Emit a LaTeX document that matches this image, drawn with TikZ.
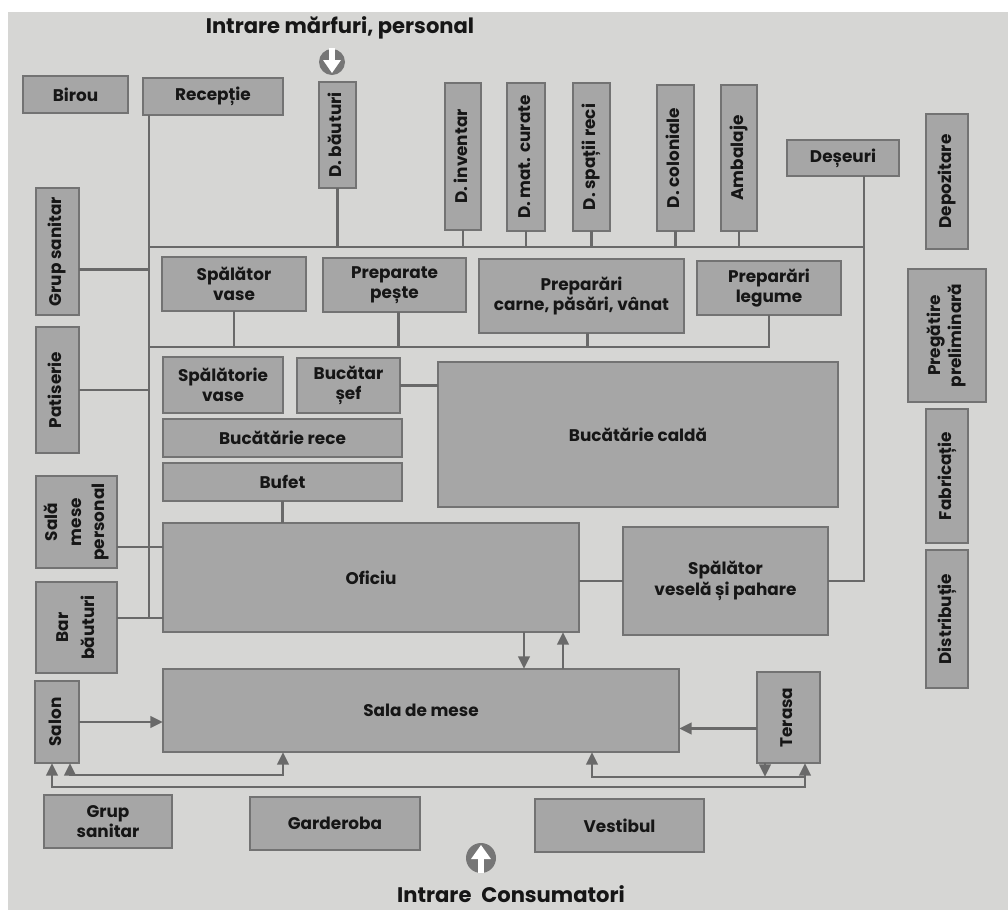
\documentclass[tikz,border=0pt]{standalone}
\usepackage{fontspec}
\usepackage{graphicx}
\setmainfont{Poppins}
\usetikzlibrary{calc,arrows.meta}
\definecolor{bg}{RGB}{214,214,212}
\definecolor{boxfill}{RGB}{166,166,166}
\definecolor{boxedge}{RGB}{115,115,115}
\definecolor{wirec}{RGB}{105,105,105}
\definecolor{ink}{RGB}{22,22,22}
\definecolor{symgray}{RGB}{118,118,118}
\newcommand\Room[7][]{\node[room,#1,minimum width={(#5-#3)*0.025cm},minimum height={(#6-#4)*0.025cm}] (#2) at ({(#3+#5)/2},{(#4+#6)/2}) {#7};}
\newcommand\vtext[2][1]{\rotatebox{90}{\def\arraystretch{#1}\begin{tabular}{@{}c@{}}#2\end{tabular}}}
\begin{document}
\begin{tikzpicture}[x=0.025cm,y=-0.025cm,
  room/.style={draw=boxedge,fill=boxfill,line width=1pt,inner sep=0pt,outer sep=0pt,align=center,text=ink,font=\fontsize{12}{14.5}\selectfont\bfseries},
  wire/.style={draw=wirec,line width=2.1pt},
  Tp/.tip={Triangle[width=8pt,length=9pt]},
  arr/.style={wire,-Tp},
  dbl/.style={wire,Tp-Tp},
  label/.style={text=ink,inner sep=0pt,font=\fontsize{15}{18}\selectfont\bfseries}]
\useasboundingbox (0,0) rectangle (1008,910);
\fill[white] (0,0) rectangle (1008,910);
\fill[bg] (8,12) rectangle (1008,910);

% rooms
\Room{birou}{23}{76}{128}{113}{Birou}
\Room{recep}{143}{78}{283}{115}{Recepție}
\Room{dbaut}{319}{82}{356}{188}{\vtext{D. băuturi}}
\Room{dinv}{445}{83}{481}{230}{\vtext{D. inventar}}
\Room{dmat}{507}{83}{545}{231}{\vtext{D. mat. curate}}
\Room{dspr}{573}{83}{610}{231}{\vtext{D. spații reci}}
\Room{dcol}{657}{85}{694}{231}{\vtext{D. coloniale}}
\Room{amb}{721}{85}{757}{231}{\vtext{Ambalaje}}
\Room{des}{787}{140}{899}{176}{Deșeuri}
\Room{depo}{926}{114}{968}{249}{\vtext{Depozitare}}
\Room{preg}{908}{269}{986}{402}{\vtext[1.0]{Pregătire\\preliminară}}
\Room{fabr}{926}{409}{968}{543}{\vtext{Fabricație}}
\Room{distr}{926}{550}{968}{688}{\vtext{Distribuție}}
\Room{gs}{36}{188}{79}{315}{\vtext{Grup sanitar}}
\Room{pat}{36}{327}{79}{453}{\vtext{Patiserie}}
\Room{smp}{36}{476}{117}{568}{\vtext[1.15]{Sală\\mese\\personal}}
\Room{bar}{36}{582}{117}{673}{\vtext[1.25]{Bar\\băuturi}}
\Room{salon}{35}{681}{79}{763}{\vtext{Salon}}
\Room{gsb}{44}{795}{172}{848}{Grup\\sanitar}
\Room{gard}{250}{797}{420}{850}{Garderoba}
\Room{vest}{535}{799}{704}{852}{Vestibul}
\Room{spvase}{162}{257}{306}{311}{Spălător\\vase}
\Room{prpeste}{323}{258}{466}{312}{Preparate\\pește}
\Room{prcarne}{479}{259}{684}{333}{Preparări\\carne, păsări, vânat}
\Room{prleg}{697}{261}{841}{315}{Preparări\\legume}
\Room{spvs}{163}{357}{283}{413}{Spălătorie\\vase}
\Room{sef}{297}{358}{400}{413}{Bucătar\\șef}
\Room{brece}{163}{419}{402}{457}{Bucătărie rece}
\Room{bufet}{163}{463}{402}{501}{Bufet}
\Room{bcalda}{438}{362}{838}{507}{Bucătărie caldă}
\Room{oficiu}{163}{523}{579}{632}{Oficiu}
\Room{spv}{623}{527}{828}{635}{Spălător\\veselă și pahare}
\Room{sala}{163}{669}{679}{752}{Sala de mese}
\Room{terasa}{757}{672}{820}{763}{\vtext{Terasa}}

% junctions
\coordinate (busT) at (149,247);
\coordinate (busM) at (149,347);
\coordinate (desv) at (864,247);
\coordinate (barL) at ($(bar.east)+(0,-9.5)$);
\coordinate (smpL) at ($(smp.east)+(0,25)$);
\coordinate (gsL) at ($(gs.east)+(0,18)$);
\coordinate (pc) at ($(prcarne.south)+(6,0)$);
\coordinate (pp) at ($(prpeste.south)+(4,0)$);

\draw[wire] (recep.south -| busT) -- (busT |- barL);
\draw[wire] (busT) -- (desv);
\draw[wire] (des.south -| desv) -- (desv |- spv.east) -- (spv.east);
\foreach \n in {dbaut,dinv,dmat,dspr,dcol,amb} \draw[wire] (\n.south) -- (\n.south |- busT);
\draw[wire] (busM) -- (busM -| prleg.south) -- (prleg.south);
\draw[wire] (spvase.south) -- (spvase.south |- busM);
\draw[wire] (pp) -- (pp |- busM);
\draw[wire] (pc) -- (pc |- busM);
\draw[wire] (gsL) -- (gsL -| busT);
\draw[wire] (pat.east) -- (pat.east -| busT);
\draw[wire] (smpL) -- (smpL -| oficiu.west);
\draw[wire] (barL) -- (barL -| oficiu.west);
\draw[wire] (sef.east) -- (sef.east -| bcalda.west);
\draw[wire] (bufet.south) -- (bufet.south |- oficiu.north);
\draw[wire] (spv.west -| oficiu.east) -- (spv.west);

% arrows
\coordinate (od) at ($(oficiu.south east)+(-55,0)$);
\coordinate (ou) at ($(oficiu.south east)+(-16,0)$);
\draw[arr] (od) -- (od |- sala.north);
\draw[arr] (ou |- sala.north) -- (ou);
\draw[arr] (salon.east) -- (salon.east -| sala.west);
\coordinate (tw) at ($(terasa.west)+(0,11)$);
\draw[arr] (tw) -- (tw -| sala.east);

\coordinate (outY) at (0,787);
\coordinate (inLY) at (0,775);
\coordinate (inRY) at (0,777);
\coordinate (s1) at ($(salon.south west)+(17,0)$);
\coordinate (s2) at ($(salon.south east)+(-9,0)$);
\coordinate (t1) at ($(terasa.south east)+(-15,0)$);
\coordinate (t2) at ($(terasa.south west)+(8,0)$);
\coordinate (m1) at ($(sala.south west)+(120,0)$);
\coordinate (m2) at ($(sala.south west)+(429,0)$);
\draw[dbl] (s1) -- (s1 |- outY) -- (t1 |- outY) -- (t1);
\draw[dbl] (s2) -- (s2 |- inLY) -- (m1 |- inLY) -- (m1);
\draw[arr] (t1 |- inRY) -- (m2 |- inRY) -- (m2);
\draw[arr] (t2) -- (t2 |- inRY);

% entrance symbols
\fill[symgray] (332,62) circle[radius=13];
\fill[white] (329,48) rectangle (335,63);
\fill[white] (323,60) -- (341,60) -- (332,73) -- cycle;
\fill[symgray] (481,858) circle[radius=15];
\fill[white] (478,856) rectangle (484,873);
\fill[white] (471,859) -- (491,859) -- (481,845) -- cycle;

\node[label] (tin) at (340,28) {Intrare mărfuri, personal};
\node[label] (tout) at (511,894) {Intrare\hspace{0.25em} Consumatori};
\end{tikzpicture}
\end{document}
